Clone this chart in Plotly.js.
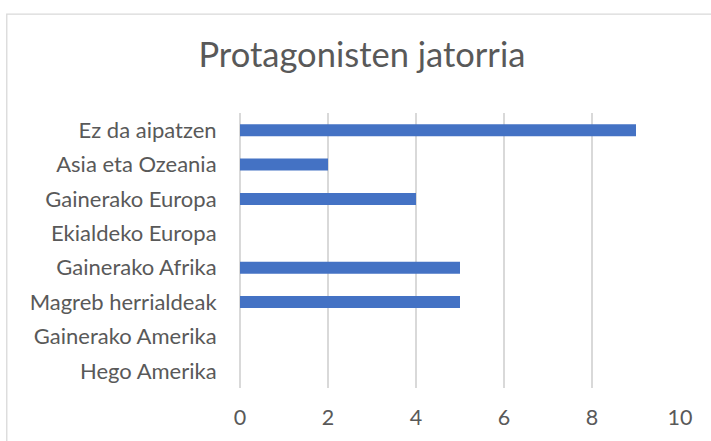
<!DOCTYPE html>
<html>
<head>
<meta charset="utf-8">
<script src="https://cdn.plot.ly/plotly-3.0.1.min.js"></script>
<style>
html,body{margin:0;padding:0;background:#fff;}
#chart{width:711px;height:441px;}
</style>
</head>
<body>
<div id="chart"></div>
<script>
// Data (top-to-bottom order as shown)
const categories = ["Ez da aipatzen", "Asia eta Ozeania", "Gainerako Europa", "Ekialdeko Europa", "Gainerako Afrika", "Magreb herrialdeak", "Gainerako Amerika", "Hego Amerika"];
const values = [9, 2, 4, 0, 5, 5, 0, 0];
const xTicks = [0, 2, 4, 6, 8, 10];
const chartTitle = "Protagonisten jatorria";

const W = 711, H = 441;
const L = 240, R = 30.5, T = 112.5, B = 53;
const pw = W - L - R, ph = H - T - B;
function px2paperX(px){ return (px - L) / pw; }
function px2paperY(py){ return (H - B - py) / ph; }

const textColor = "#595959";
const font = "Lato, 'Open Sans', sans-serif";

const trace = {
  type: "bar",
  orientation: "h",
  y: categories,
  x: values,
  marker: {color: "#4472C4", line: {width: 0}},
  width: 0.35,
  hoverinfo: "x+y"
};

const layout = {
  width: W, height: H,
  margin: {l: L, r: R, t: T, b: B, pad: 0},
  paper_bgcolor: "#ffffff",
  plot_bgcolor: "#ffffff",
  showlegend: false,
  font: {family: font, color: textColor},
  title: {
    text: chartTitle,
    font: {family: font, size: 34.5, color: textColor},
    x: 0.509, xref: "container", xanchor: "center",
    y: 1 - 55 / H, yref: "container", yanchor: "middle"
  },
  xaxis: {
    range: [0, 10],
    tickvals: xTicks,
    ticktext: xTicks.map(String),
    showgrid: true, gridcolor: "#D9D9D9", gridwidth: 1.3,
    zeroline: true, zerolinecolor: "#D9D9D9", zerolinewidth: 1.3,
    showline: false,
    ticks: "outside", ticklen: 10, tickcolor: "rgba(0,0,0,0)",
    tickfont: {family: font, size: 21.5, color: textColor},
    fixedrange: true
  },
  yaxis: {
    type: "category",
    autorange: "reversed",
    showgrid: false, zeroline: false, showline: false,
    ticks: "outside", ticklen: 18, tickcolor: "rgba(0,0,0,0)",
    tickfont: {family: font, size: 22, color: textColor},
    fixedrange: true
  },
  shapes: [{
    type: "rect", xref: "paper", yref: "paper",
    x0: px2paperX(6.5), x1: px2paperX(730),
    y0: px2paperY(460), y1: px2paperY(13.5),
    line: {color: "#D9D9D9", width: 1.3},
    fillcolor: "rgba(0,0,0,0)", layer: "below"
  }]
};

Plotly.newPlot("chart", [trace], layout, {displayModeBar: false, staticPlot: true});
</script>
</body>
</html>
